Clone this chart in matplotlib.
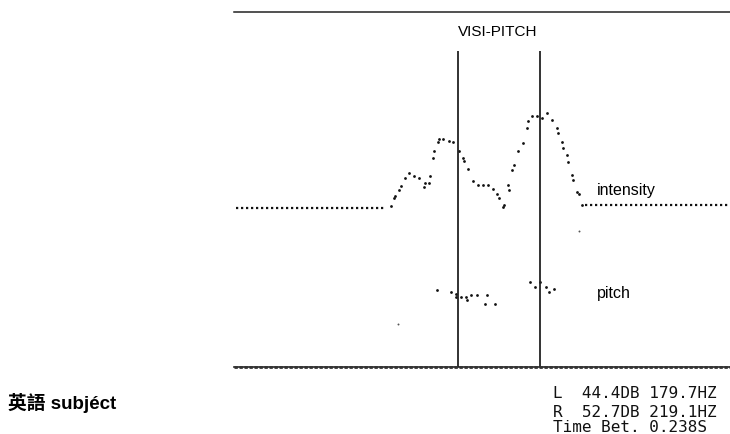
import matplotlib
matplotlib.use("Agg")
import matplotlib.pyplot as plt
import numpy as np

# ---- data (display columns from left edge, display rows from bottom line) ----
intensity_x = [157, 160, 161, 165, 167, 171, 175, 180, 185, 190, 191, 195, 196, 199, 200,
               204, 205, 209, 215, 219, 225, 229, 230, 234, 239, 244, 249, 254, 259, 263,
               265, 269, 270, 274, 275, 278, 280, 284, 289, 293, 294, 298, 303, 308, 313,
               318, 323, 324, 328, 329, 333, 334, 338, 339, 343, 345, 348]
intensity_y = [161, 169, 171, 177, 181, 189, 194, 191, 189, 180, 184, 184, 191, 209, 216,
               225, 228, 228, 226, 225, 216, 209, 206, 198, 186, 182, 182, 182, 178, 173,
               169, 160, 162, 182, 177, 197, 202, 216, 224, 239, 246, 251, 251, 249, 254,
               247, 239, 234, 225, 219, 212, 205, 192, 187, 175, 173, 162]
floor_left_level = 159
floor_left_span = (2, 152)
floor_right_level = 162
floor_right_span = (351, 496)
stray_x = [345, 164]
stray_y = [136, 43]

pitch_x = [203, 217, 222, 222, 227, 232, 233, 237, 243, 253, 251, 261,
           296, 301, 306, 312, 315, 320]
pitch_y = [77, 75, 73, 70, 70, 70, 67, 72, 72, 72, 63, 63,
           85, 80, 85, 80, 75, 78]

cursor_x = [224, 306]
cursor_top = 316

readout_lines = ["L  44.4DB 179.7HZ", "R  52.7DB 219.1HZ", "Time Bet. 0.238S"]
title = "VISI-PITCH"
label_bottom = "英語 subjéct"

W, H = 730, 435
fig = plt.figure(figsize=(W / 100, H / 100), dpi=100)
fig.patch.set_facecolor("white")

ax = fig.add_axes([234 / W, (H - 368) / H, (730 - 234) / W, (368 - 13) / H])
ax.set_xlim(0, 496)
ax.set_ylim(0, 355)
ax.axis("off")

dot = dict(linestyle="none", marker="o", markersize=2.0, color="#111111", markeredgewidth=0)

# floors (dotted)
ax.hlines(floor_left_level, *floor_left_span, colors="#111111", linewidth=1.6,
          linestyles=(0, (1, 1.25)))
ax.hlines(floor_right_level, *floor_right_span, colors="#111111", linewidth=1.6,
          linestyles=(0, (1, 1.25)))
ax.plot(intensity_x, intensity_y, **dot)
ax.plot(pitch_x, pitch_y, **dot)
ax.plot(stray_x, stray_y, linestyle="none", marker="o", markersize=1.4,
        color="#555555", markeredgewidth=0)

# cursors
ax.vlines(cursor_x, 0, cursor_top, colors="#222222", linewidth=1.3)

# frame lines
ax.axhline(355, color="#222222", linewidth=1.1, clip_on=False)
ax.axhline(0, color="#222222", linewidth=1.2, clip_on=False)
ax.axhline(0, color="#333333", linewidth=2.0, linestyle=(0, (1.2, 0.6)), clip_on=False)

# texts
ax.text(264, 335.5, title, fontsize=11, family="Liberation Sans",
        ha="center", va="center")
ax.text(363, 177, "intensity", fontsize=11.5, family="Liberation Sans",
        ha="left", va="center")
ax.text(363, 74, "pitch", fontsize=11.5, family="Liberation Sans",
        ha="left", va="center")

fig.text(8 / W, 1 - 403 / H, label_bottom, fontsize=13.5, fontweight="bold",
         family=["Liberation Sans", "Noto Sans CJK SC"], ha="left", va="center")

for i, (line, yc) in enumerate(zip(readout_lines, [393.5, 412.5, 427.5])):
    fig.text(553 / W, 1 - yc / H, line, fontsize=11.5, family="DejaVu Sans Mono",
             ha="left", va="center", color="#111111")

fig.savefig("out.png", dpi=100, facecolor="white")
